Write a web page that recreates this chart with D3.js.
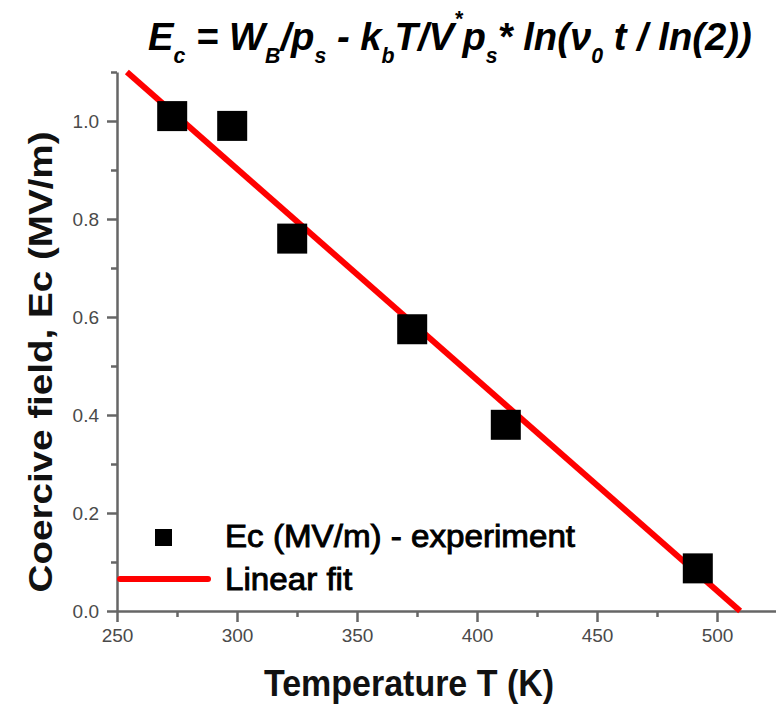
<!DOCTYPE html>
<html lang="en">
<head>
    <meta charset="UTF-8">
    <title>Coercive field vs temperature</title>
    <script src="https://d3js.org/d3.v7.min.js"></script>
    <style>
        body {
            margin: 0;
            padding: 0;
            background-color: #fff;
            overflow: hidden;
        }
        svg text {
            font-family: "Liberation Sans", Arial, sans-serif;
        }
        .axis path, .axis line {
            stroke: #666;
            stroke-width: 2.5px;
        }
        .axis text {
            font-size: 19px;
            fill: #4a4a4a;
        }
    </style>
</head>
<body>
    <div id="chart"></div>

    <script>
        const temps = [273, 298, 323, 373, 412, 492];
        const ecValues = [1.01, 0.99, 0.76, 0.575, 0.38, 0.087];

        // linear fit Ec = a + b*T
        const fitIntercept = 2.194;
        const fitSlope = -0.004305;

        const xTicks = [250, 300, 350, 400, 450, 500];
        const xMinor = [275, 325, 375, 425, 475];
        const yTicks = [0, 0.2, 0.4, 0.6, 0.8, 1.0];
        const yMinor = [0.1, 0.3, 0.5, 0.7, 0.9, 1.1];

        const legendLabels = ["Ec (MV/m) - experiment", "Linear fit"];
        const xTitle = "Temperature T (K)";
        const yTitle = "Coercive field, Ec (MV/m)";

        const width = 776;
        const height = 706;

        const svg = d3.select("#chart").append("svg")
            .attr("width", width)
            .attr("height", height);

        const x = d3.scaleLinear().domain([250, 525]).range([117, 777]);
        const y = d3.scaleLinear().domain([0, 1.1]).range([611, 72]);

        // axes, major + minor ticks
        svg.append("g")
            .attr("class", "axis")
            .attr("transform", `translate(0,${y(0)})`)
            .call(d3.axisBottom(x).tickValues(xTicks).tickSize(11).tickSizeOuter(0).tickPadding(7).tickFormat(d3.format("d")));
        svg.append("g")
            .attr("class", "axis")
            .attr("transform", `translate(0,${y(0)})`)
            .call(d3.axisBottom(x).tickValues(xMinor).tickSize(6).tickSizeOuter(0).tickFormat(""))
            .select(".domain").remove();

        svg.append("g")
            .attr("class", "axis")
            .attr("transform", `translate(${x(250)},0)`)
            .call(d3.axisLeft(y).tickValues(yTicks).tickSize(10).tickSizeOuter(0).tickPadding(8).tickFormat(d3.format(".1f")));
        svg.append("g")
            .attr("class", "axis")
            .attr("transform", `translate(${x(250)},0)`)
            .call(d3.axisLeft(y).tickValues(yMinor).tickSize(6).tickSizeOuter(0).tickFormat(""))
            .select(".domain").remove();

        // fit line, from top of the plot down to the x axis
        const fitEnds = [y.domain()[1], 0].map(v => ({ t: (v - fitIntercept) / fitSlope, v: v }));
        svg.append("path")
            .datum(fitEnds)
            .attr("fill", "none")
            .attr("stroke", "#ff0000")
            .attr("stroke-width", 6)
            .attr("d", d3.line().x(d => x(d.t)).y(d => y(d.v)));

        // data squares
        const sq = 30;
        svg.append("g")
            .selectAll("rect")
            .data(temps)
            .enter().append("rect")
            .attr("x", d => x(d) - sq / 2)
            .attr("y", (d, i) => y(ecValues[i]) - sq / 2)
            .attr("width", sq)
            .attr("height", sq)
            .attr("fill", "#000");

        // legend
        const legend = svg.append("g");
        legend.append("rect")
            .attr("x", 155).attr("y", 529)
            .attr("width", 17).attr("height", 17)
            .attr("fill", "#000");
        legend.append("line")
            .attr("x1", 120).attr("x2", 208)
            .attr("y1", 579).attr("y2", 579)
            .attr("stroke", "#ff0000")
            .attr("stroke-width", 6)
            .attr("stroke-linecap", "round");
        legend.selectAll("text")
            .data(legendLabels)
            .enter().append("text")
            .attr("transform", (d, i) => `translate(225,${547 + i * 43}) scale(1.07,1)`)
            .attr("font-size", 31)
            .attr("fill", "#000")
            .attr("stroke", "#000")
            .attr("stroke-width", 0.9)
            .text(d => d);

        // axis titles
        svg.append("text")
            .attr("transform", "translate(409,696) scale(1,1.08)")
            .attr("text-anchor", "middle")
            .attr("font-size", 34)
            .attr("font-weight", "bold")
            .attr("fill", "#111")
            .text(xTitle);

        svg.append("text")
            .attr("transform", "translate(52,362) rotate(-90)")
            .attr("text-anchor", "middle")
            .attr("font-size", 34)
            .attr("font-weight", "bold")
            .attr("fill", "#111")
            .attr("textLength", 461)
            .attr("lengthAdjust", "spacingAndGlyphs")
            .text(yTitle);

        // formula title with sub/superscripts
        const titleParts = [
            ["E", 0], ["c", 1], [" = W", 0], ["B", 1], ["/p", 0], ["s", 1],
            [" - k", 0], ["b", 1], ["T/V", 0], ["*", -1], ["p", 0], ["s", 1],
            ["* ln(", 0], ["\u03bd", 0], ["0", 1], [" t / ln(2))", 0]
        ];
        const titleG = svg.append("g");
        const title = titleG.append("text")
            .attr("x", 0).attr("y", 0)
            .attr("font-size", 36)
            .attr("font-weight", "bold")
            .attr("font-style", "italic")
            .attr("fill", "#000");
        let shift = 0;
        titleParts.forEach(([txt, kind]) => {
            const target = kind === 1 ? 12 : kind === -1 ? -22 : 0;
            title.append("tspan")
                .attr("dy", target - shift)
                .attr("font-size", kind === 0 ? 36 : 20)
                .text(txt);
            shift = target;
        });
        const tw = title.node().getBBox().width;
        const sx = 604 / tw;
        titleG.attr("transform", `translate(148,50) scale(${sx},1.1)`);
    </script>
</body>
</html>
